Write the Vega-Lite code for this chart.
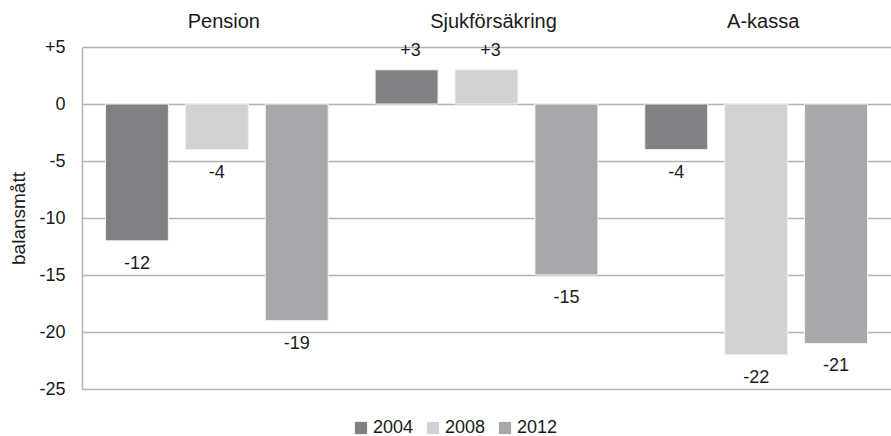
{
  "$schema": "https://vega.github.io/schema/vega-lite/v6.json",
  "width": 809,
  "height": 342,
  "autosize": {"type": "none"},
  "padding": {"left": 82, "top": 47, "right": 0, "bottom": 47},
  "background": "white",
  "config": {
    "view": {"stroke": null},
    "font": "Liberation Sans",
    "text": {"font": "Liberation Sans"},
    "locale": {
      "number": {"decimal": ".", "thousands": ",", "grouping": [3], "currency": ["", ""], "minus": "-"}
    }
  },
  "data": {
    "values": [
      {"kategori": "Pension", "år": "2004", "värde": -12},
      {"kategori": "Pension", "år": "2008", "värde": -4},
      {"kategori": "Pension", "år": "2012", "värde": -19},
      {"kategori": "Sjukförsäkring", "år": "2004", "värde": 3},
      {"kategori": "Sjukförsäkring", "år": "2008", "värde": 3},
      {"kategori": "Sjukförsäkring", "år": "2012", "värde": -15},
      {"kategori": "A-kassa", "år": "2004", "värde": -4},
      {"kategori": "A-kassa", "år": "2008", "värde": -22},
      {"kategori": "A-kassa", "år": "2012", "värde": -21}
    ]
  },
  "encoding": {
    "x": {
      "field": "kategori",
      "type": "nominal",
      "sort": ["Pension", "Sjukförsäkring", "A-kassa"],
      "scale": {"paddingInner": 0, "paddingOuter": 0},
      "axis": {
        "orient": "top",
        "title": null,
        "domain": false,
        "ticks": false,
        "labelAngle": 0,
        "labelFontSize": 20,
        "labelColor": "#1a1a1a",
        "labelPadding": 16,
        "labelOffset": 7
      }
    },
    "xOffset": {
      "field": "år",
      "type": "nominal",
      "scale": {"paddingInner": 0.2125, "paddingOuter": 0.29375}
    },
    "y": {
      "field": "värde",
      "type": "quantitative",
      "scale": {"domain": [-25, 5], "nice": false, "zero": false},
      "axis": {
        "values": [-25, -20, -15, -10, -5, 0, 5],
        "labelExpr": "datum.value > 0 ? '+' + datum.label : datum.label",
        "title": "balansmått",
        "titleFontSize": 19,
        "titleFontWeight": "normal",
        "titleColor": "#1a1a1a",
        "titlePadding": 10,
        "labelFontSize": 18,
        "labelColor": "#1a1a1a",
        "labelPadding": 17,
        "ticks": false,
        "domainColor": "#b3b3b3",
        "domainWidth": 1.5,
        "grid": true,
        "gridColor": "#b3b3b3",
        "gridWidth": 1.5
      }
    }
  },
  "layer": [
    {
      "mark": {"type": "bar", "stroke": "#f2f2f2", "strokeWidth": 1},
      "encoding": {
        "color": {
          "field": "år",
          "type": "nominal",
          "scale": {"domain": ["2004", "2008", "2012"], "range": ["#808184", "#d1d2d4", "#a7a8ab"]},
          "legend": {
            "orient": "none",
            "legendX": 270,
            "legendY": 372,
            "direction": "horizontal",
            "title": null,
            "symbolType": "square",
            "symbolSize": 150,
            "symbolStrokeWidth": 0,
            "labelFontSize": 18,
            "labelColor": "#1a1a1a",
            "labelOffset": 3,
            "columnPadding": 10
          }
        }
      }
    },
    {
      "transform": [{"filter": "datum['värde'] < 0"}],
      "mark": {"type": "text", "baseline": "top", "dy": 14, "fontSize": 18, "color": "#1a1a1a"},
      "encoding": {"text": {"field": "värde", "type": "quantitative", "format": "+d"}}
    },
    {
      "transform": [{"filter": "datum['värde'] > 0"}],
      "mark": {"type": "text", "baseline": "alphabetic", "dy": -14, "dx": 4, "fontSize": 18, "color": "#1a1a1a"},
      "encoding": {"text": {"field": "värde", "type": "quantitative", "format": "+d"}}
    }
  ]
}
